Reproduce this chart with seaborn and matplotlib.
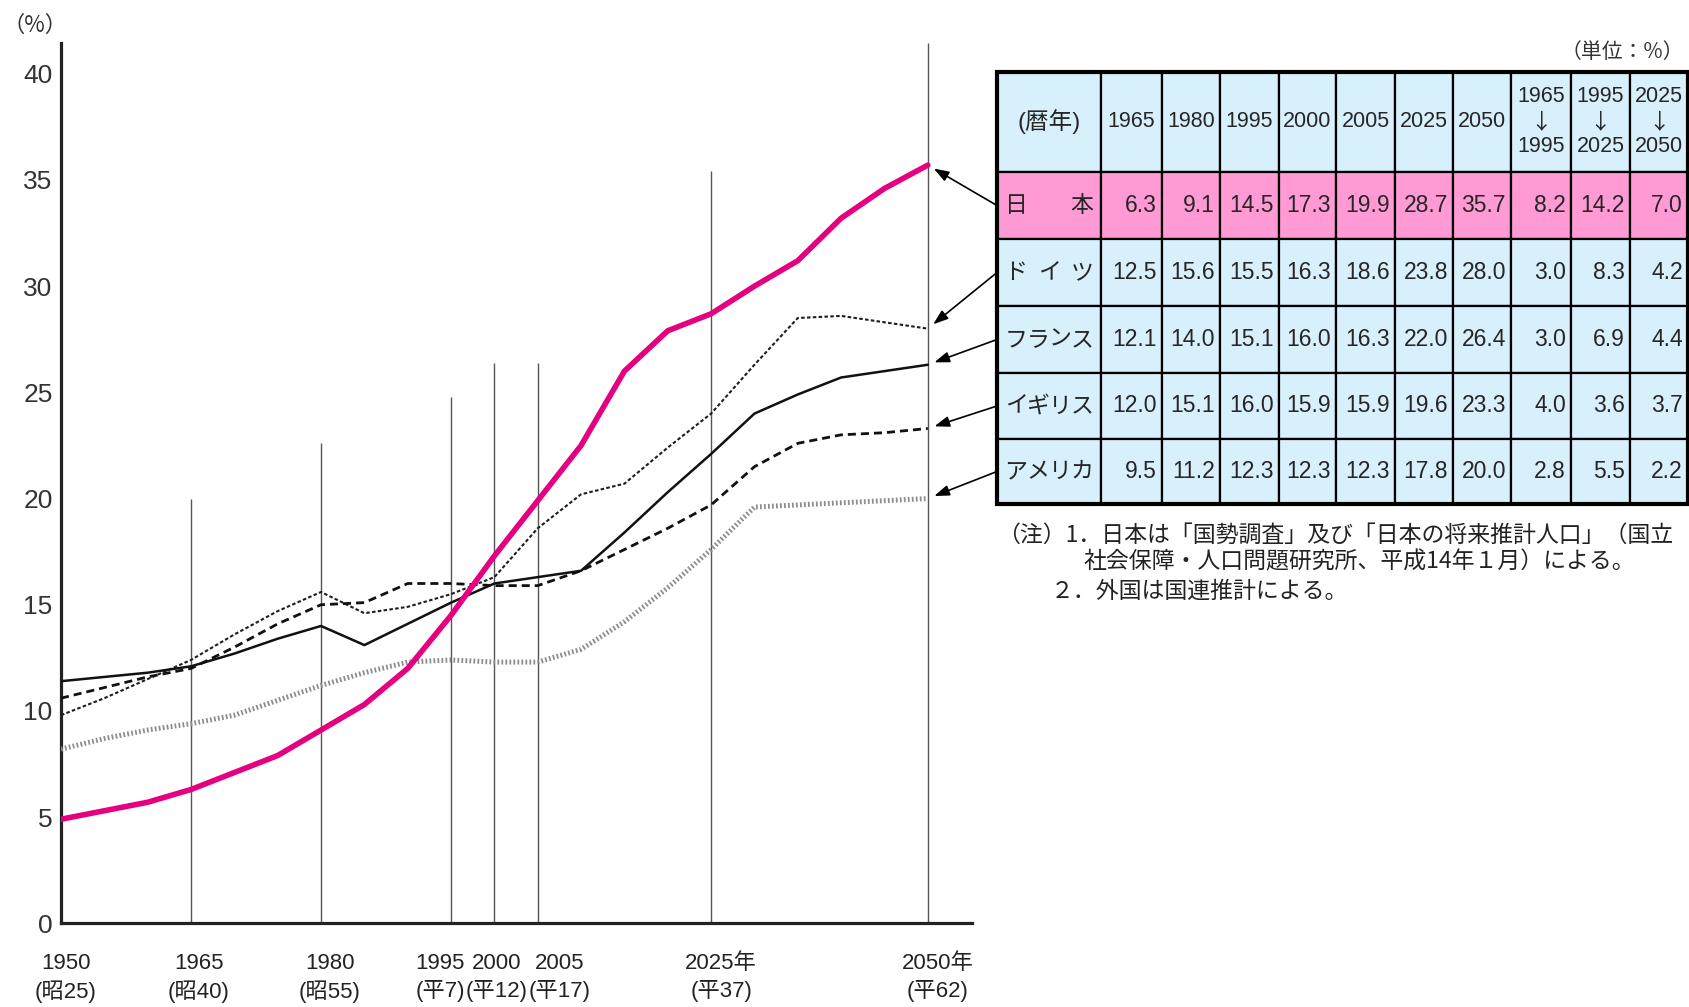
import numpy as np
import pandas as pd
import matplotlib
matplotlib.use("Agg")
import matplotlib.pyplot as plt
import seaborn as sns
from matplotlib import font_manager
from matplotlib.patches import Rectangle

# ---------------- data ----------------
years = list(range(1950, 2051, 5))
japan   = [4.9, 5.3, 5.7, 6.3, 7.1, 7.9, 9.1, 10.3, 12.0, 14.5, 17.3, 19.9, 22.5, 26.0, 27.9, 28.7, 30.0, 31.2, 33.2, 34.6, 35.7]
germany = [9.8, 10.6, 11.5, 12.4, 13.6, 14.7, 15.6, 14.6, 14.9, 15.5, 16.3, 18.6, 20.2, 20.7, 22.4, 24.0, 26.3, 28.5, 28.6, 28.3, 28.0]
france  = [11.4, 11.6, 11.8, 12.1, 12.7, 13.4, 14.0, 13.1, 14.1, 15.1, 16.0, 16.3, 16.6, 18.4, 20.3, 22.1, 24.0, 24.9, 25.7, 26.0, 26.3]
uk      = [10.6, 11.1, 11.6, 12.0, 13.0, 14.1, 15.0, 15.1, 16.0, 16.0, 15.9, 15.9, 16.6, 17.6, 18.6, 19.7, 21.5, 22.6, 23.0, 23.1, 23.3]
usa     = [8.2, 8.7, 9.1, 9.4, 9.8, 10.5, 11.2, 11.8, 12.3, 12.4, 12.3, 12.3, 12.9, 14.2, 15.8, 17.6, 19.6, 19.7, 19.8, 19.9, 20.0]

countries = ["日本", "ドイツ", "フランス", "イギリス", "アメリカ"]
series = dict(zip(countries, [japan, germany, france, uk, usa]))

tick_years = [1950, 1965, 1980, 1995, 2000, 2005, 2025, 2050]
tick_labels = ["1950\n(昭25)", "1965\n(昭40)", "1980\n(昭55)", "1995\n(平7)",
               "2000\n(平12)", "2005\n(平17)", "2025年\n(平37)", "2050年\n(平62)"]
guide_tops = [20.0, 22.6, 24.8, 26.4, 26.4, 35.4, 41.45]   # guide lines at 1965..2050

table_header = ["1965", "1980", "1995", "2000", "2005", "2025", "2050",
                "1965\n↓\n1995", "1995\n↓\n2025", "2025\n↓\n2050"]
tbl_japan   = [6.3, 9.1, 14.5, 17.3, 19.9, 28.7, 35.7, 8.2, 14.2, 7.0]
tbl_germany = [12.5, 15.6, 15.5, 16.3, 18.6, 23.8, 28.0, 3.0, 8.3, 4.2]
tbl_france  = [12.1, 14.0, 15.1, 16.0, 16.3, 22.0, 26.4, 3.0, 6.9, 4.4]
tbl_uk      = [12.0, 15.1, 16.0, 15.9, 15.9, 19.6, 23.3, 4.0, 3.6, 3.7]
tbl_usa     = [9.5, 11.2, 12.3, 12.3, 12.3, 17.8, 20.0, 2.8, 5.5, 2.2]
table_rows = dict(zip(countries, [tbl_japan, tbl_germany, tbl_france, tbl_uk, tbl_usa]))

notes = ["（注）1．日本は「国勢調査」及び「日本の将来推計人口」（国立",
         "社会保障・人口問題研究所、平成14年１月）による。",
         "２．外国は国連推計による。"]

# ---------------- styles ----------------
sns.set_style("white")
names = {f.name for f in font_manager.fontManager.ttflist}
narrow = "Liberation Sans Narrow" if "Liberation Sans Narrow" in names else "Liberation Sans"
cjk = "Noto Sans CJK JP"
plt.rcParams["font.family"] = [narrow, cjk, "DejaVu Sans"]

line_styles = {
    "日本":   dict(color="#e4007f", linewidth=4.0, linestyle="-", zorder=6),
    "ドイツ": dict(color="#1e1e1e", linewidth=1.5, linestyle=(0, (1.7, 1.1)), zorder=4),
    "フランス": dict(color="#111111", linewidth=1.8, linestyle="-", zorder=5),
    "イギリス": dict(color="#111111", linewidth=2.0, linestyle=(0, (2.9, 1.8)), zorder=4),
    "アメリカ": dict(color="#8c8c8c", linewidth=3.6, linestyle=(0, (0.35, 0.45)), zorder=3),
}

W, H = 1690, 1007
fig = plt.figure(figsize=(W / 100, H / 100), dpi=100)
ax = fig.add_axes([61 / W, 1 - 923.3 / H, 911 / W, 880.3 / H])

df = pd.DataFrame([(c, y, v) for c, vals in series.items() for y, v in zip(years, vals)],
                  columns=["country", "year", "value"])
for c in countries:
    sub = df[df["country"] == c]
    sns.lineplot(data=sub, x="year", y="value", ax=ax, errorbar=None, **line_styles[c])

ax.vlines(tick_years[1:], 0, guide_tops, colors="#555555", linewidth=1.0, zorder=1)

ax.set_xlim(1950, 2055.1)
ax.set_ylim(0, 41.45)
ax.set_xlabel("")
ax.set_ylabel("")
ax.set_xticks([])
ax.set_yticks(range(0, 41, 5))
ax.tick_params(axis="y", direction="in", length=9.5, width=1.2, color="#333333",
               labelsize=19, pad=6.0, labelcolor="#333333")
for lab in ax.get_yticklabels():
    lab.set_fontfamily(["Liberation Sans", cjk])
for s in ["top", "right"]:
    ax.spines[s].set_visible(False)
for s in ["left", "bottom"]:
    ax.spines[s].set_linewidth(2.3)
    ax.spines[s].set_color("#222222")

label_dx = [5, 8, 9, -11, 2, 22, 10, 10]
for yr, lab, dx in zip(tick_years, tick_labels, label_dx):
    ax.annotate(lab, xy=(yr, 0), xycoords=("data", "axes fraction"),
                xytext=(dx, -30), textcoords="offset pixels", ha="center", va="top",
                fontsize=16, linespacing=1.35, color="#222222", annotation_clip=False)

fig.text(35 / W, 1 - 25 / H, "（%）", fontsize=16, ha="center", va="center",
         family=[cjk], color="#333333")

# ---------------- table ----------------
col_w = [104, 61, 58, 59, 57, 59, 58, 58, 60, 59, 58]
row_h = [100, 67, 67, 67, 66, 65]
tw, th = sum(col_w), sum(row_h)
tab = fig.add_axes([997 / W, 1 - 504 / H, tw / W, th / H])
tab.set_xlim(0, tw)
tab.set_ylim(th, 0)
tab.axis("off")

xe = np.concatenate([[0], np.cumsum(col_w)])
ye = np.concatenate([[0], np.cumsum(row_h)])
blue, pink = "#d8effc", "#ff9ad5"

for r in range(len(row_h)):
    fill = pink if r == 1 else blue
    for cidx in range(len(col_w)):
        tab.add_patch(Rectangle((xe[cidx], ye[r]), col_w[cidx], row_h[r],
                                facecolor=fill, edgecolor="black", linewidth=1.6))
tab.add_patch(Rectangle((0, 0), tw, th, facecolor="none", edgecolor="black",
                        linewidth=3.0, clip_on=False))

# header
tab.text(col_w[0] / 2, row_h[0] / 2, "(暦年)", ha="center", va="center", fontsize=17)
for i, h in enumerate(table_header):
    xc = (xe[i + 1] + xe[i + 2]) / 2
    parts = h.split("\n")
    if len(parts) == 1:
        tab.text(xc, row_h[0] / 2, h, ha="center", va="center", fontsize=15.5)
    else:
        for k, p in enumerate(parts):
            yk = row_h[0] / 2 + (k - 1) * 25
            fam = [cjk] if p == "↓" else [narrow, cjk]
            tab.text(xc, yk, p, ha="center", va="center", fontsize=15.5, family=fam)

# rows
for r, c in enumerate(countries):
    yc = (ye[r + 1] + ye[r + 2]) / 2
    chars = list(c)
    n = len(chars)
    left, right = 8 + 11, col_w[0] - 8 - 11
    for k, ch in enumerate(chars):
        xc = left + (right - left) * k / (n - 1)
        tab.text(xc, yc, ch, ha="center", va="center", fontsize=16.5, family=[cjk])
    for i, v in enumerate(table_rows[c]):
        tab.text(xe[i + 2] - 5, yc, f"{v:.1f}", ha="right", va="center", fontsize=16.5)

fig.text(1684 / W, 1 - 52 / H, "（単位：%）", fontsize=15, ha="right", va="center",
         family=[cjk], color="#333333")

# arrows from table rows to line ends
for r, c in enumerate(countries):
    yc = (ye[r + 1] + ye[r + 2]) / 2
    ax.annotate("", xy=(years[-1], series[c][-1]), xycoords="data",
                xytext=(0, yc), textcoords=tab.transData,
                arrowprops=dict(arrowstyle="-|>,head_length=0.9,head_width=0.32",
                                color="black", lw=1.2, shrinkA=0, shrinkB=5),
                annotation_clip=False)

# notes
note_x = [997, 1084, 1051]
note_y = [535, 562, 591]
for t, nx, ny in zip(notes, note_x, note_y):
    fig.text(nx / W, 1 - ny / H, t, fontsize=16.5, ha="left", va="center",
             family=[cjk], color="#222222")

fig.savefig("out.png", dpi=100)
